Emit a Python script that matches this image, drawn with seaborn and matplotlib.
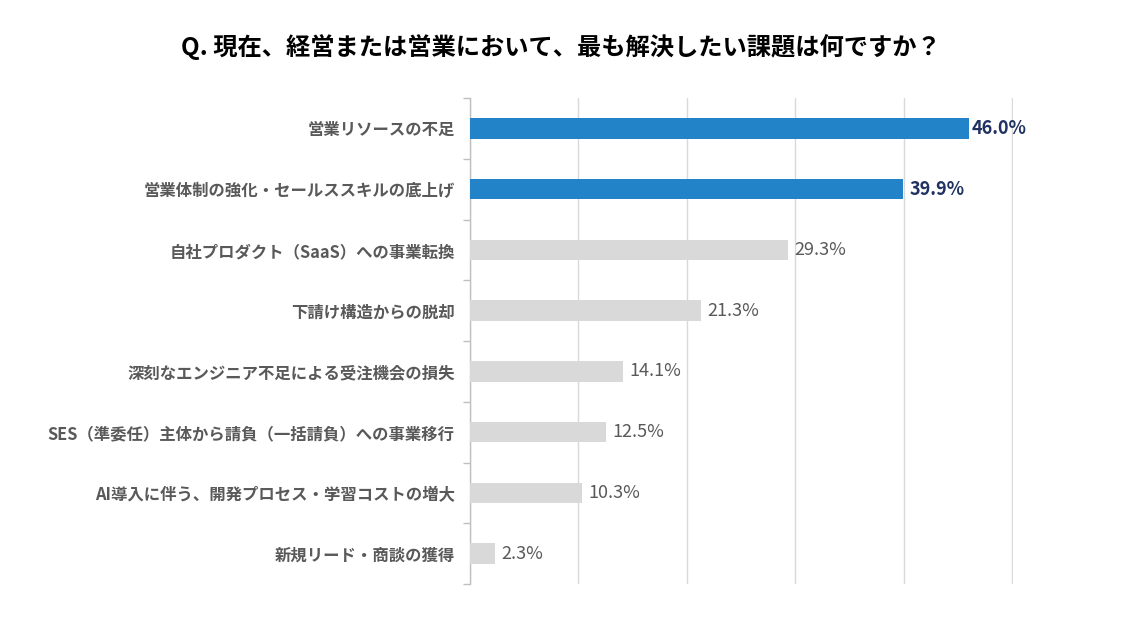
import numpy as np
import pandas as pd
import matplotlib
matplotlib.use("Agg")
import matplotlib.pyplot as plt
import seaborn as sns

sns.set_theme(style="white")
plt.rcParams["font.family"] = ["Noto Sans CJK JP", "DejaVu Sans"]

# === Data ===
title = "Q. 現在、経営または営業において、最も解決したい課題は何ですか？"
categories = [
    "営業リソースの不足",
    "営業体制の強化・セールススキルの底上げ",
    "自社プロダクト（SaaS）への事業転換",
    "下請け構造からの脱却",
    "深刻なエンジニア不足による受注機会の損失",
    "SES（準委任）主体から請負（一括請負）への事業移行",
    "AI導入に伴う、開発プロセス・学習コストの増大",
    "新規リード・商談の獲得",
]
values = [46.0, 39.9, 29.3, 21.3, 14.1, 12.5, 10.3, 2.3]
highlight = [True, True, False, False, False, False, False, False]

BLUE = "#2383C8"
GREY_BAR = "#D9D9D9"
NAVY = "#1F3262"
GREY_TEXT = "#595959"

df = pd.DataFrame({"label": categories, "value": values})
palette = {c: (BLUE if h else GREY_BAR) for c, h in zip(categories, highlight)}

fig = plt.figure(figsize=(11.21, 6.26), dpi=100)
ax = fig.add_axes([470 / 1121, 1 - 584 / 626, (1013 - 470) / 1121, (584 - 98) / 626])

sns.barplot(data=df, x="value", y="label", hue="label", palette=palette,
            legend=False, width=0.34, saturation=1, linewidth=0, ax=ax, zorder=3)

ax.set_xlim(0, 50.05)
ax.set_ylim(len(categories) - 0.5, -0.5)
ax.set_xticks(np.arange(0, 51, 10))
ax.set_xticklabels([])
ax.tick_params(axis="x", length=0)
ax.grid(axis="x", color="#D9D9D9", linewidth=1, zorder=0)
ax.set_xlabel("")
ax.set_ylabel("")

# category boundary ticks on the left axis
ax.set_yticks(np.arange(-0.5, len(categories), 1), minor=True)
ax.tick_params(axis="y", which="minor", length=5, color="#BFBFBF", width=1, direction="out", left=True)
ax.tick_params(axis="y", which="major", length=0, pad=11)
for lbl in ax.get_yticklabels():
    lbl.set_fontsize(11.8)
    lbl.set_fontweight("bold")
    lbl.set_color(GREY_TEXT)

for side in ["top", "right", "bottom"]:
    ax.spines[side].set_visible(False)
ax.spines["left"].set_color("#BFBFBF")
ax.spines["left"].set_linewidth(1)

# value labels
for i, (v, h) in enumerate(zip(values, highlight)):
    ax.text(v + 0.6 if not (h and v > 45) else v + 0.2, i, f"{v:.1f}%", va="center", ha="left",
            fontsize=13, fontweight="bold" if h else "normal",
            color=NAVY if h else GREY_TEXT, zorder=4)

fig.text(0.5, 1 - 47 / 626, title, ha="center", va="center",
         fontsize=17.5, fontweight="bold", color="#000000")

fig.savefig("out.png", dpi=100)
